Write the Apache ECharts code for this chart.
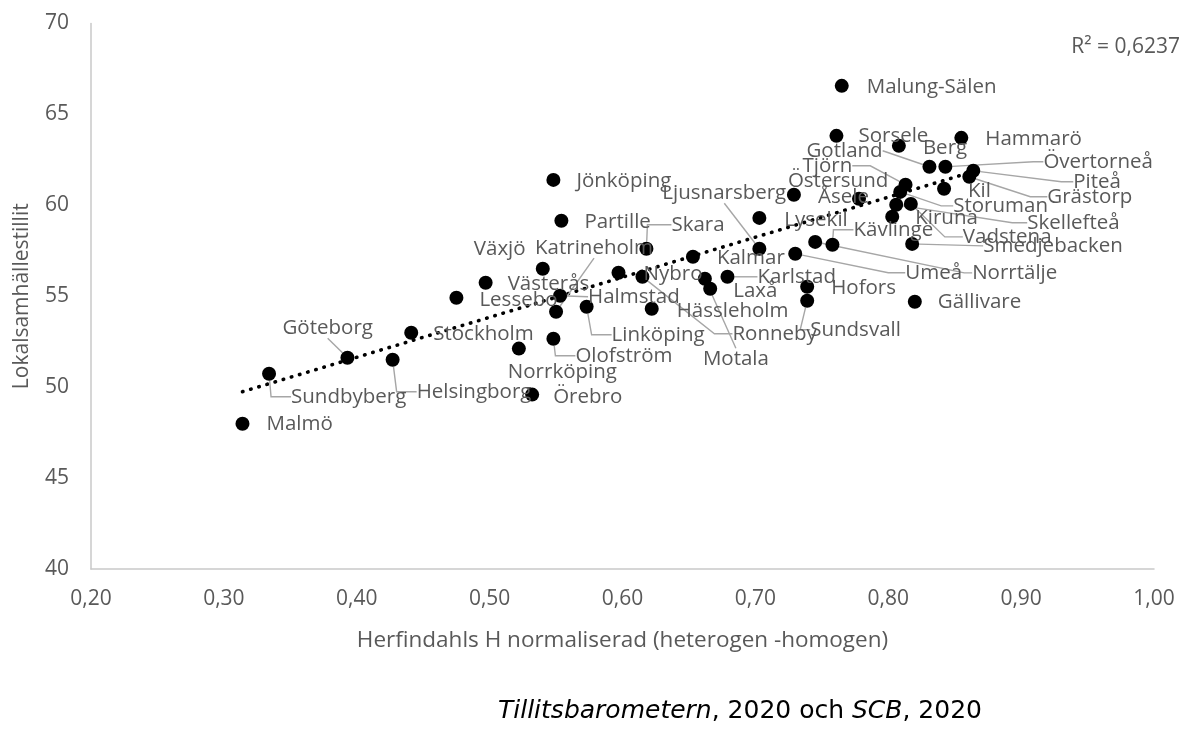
<!DOCTYPE html>
<html><head><meta charset="utf-8">
<script src="https://cdn.jsdelivr.net/npm/echarts@6/dist/echarts.min.js"></script>
<style>html,body{margin:0;padding:0;background:#fff}#c{width:1184px;height:751px}</style>
</head><body><div id="c"></div>
<script>
// ---- data ----
const municipalities = ['Malung-Sälen','Sorsele','Hammarö','Berg','Gotland','Övertorneå','Piteå','Grästorp','Kil','Tjörn','Storuman','Skellefteå','Vadstena','Kiruna','Smedjebacken','Östersund','Åsele','Lysekil','Ljusnarsberg','Kävlinge','Norrtälje','Umeå','Hofors','Sundsvall','Gällivare','Kalmar','Karlstad','Laxå','Motala','Ronneby','Nybro','Hässleholm','Skara','Partille','Jönköping','Katrineholm','Halmstad','Linköping','Lessebo','Västerås','Växjö','Stockholm','Göteborg','Sundbyberg','Helsingborg','Norrköping','Olofström','Örebro','Malmö'];
const herfindahl = [0.765,0.761,0.855,0.808,0.831,0.843,0.864,0.861,0.842,0.813,0.809,0.806,0.817,0.803,0.818,0.729,0.778,0.703,0.703,0.758,0.745,0.730,0.739,0.739,0.820,0.653,0.679,0.666,0.662,0.615,0.597,0.622,0.618,0.554,0.548,0.550,0.553,0.573,0.475,0.497,0.540,0.441,0.393,0.334,0.427,0.522,0.548,0.532,0.314];
const trust = [66.57,63.82,63.71,63.27,62.12,62.12,61.90,61.57,60.91,61.13,60.74,60.03,60.08,59.37,57.88,60.58,60.36,59.31,57.61,57.83,57.99,57.34,55.52,54.75,54.70,57.17,56.07,55.41,55.96,56.07,56.29,54.31,57.61,59.15,61.40,54.15,55.03,54.42,54.92,55.74,56.51,52.99,51.62,50.74,51.51,52.12,52.66,49.59,47.99];
const trendX = [0.314, 0.861];
const trendY = [49.75, 61.79];
const rSquaredText = 'R² = 0,6237';
const xAxisTitle = 'Herfindahls H normaliserad (heterogen -homogen)';
const yAxisTitle = 'Lokalsamhällestillit';

// ---- label placement (styling only): [dx, dy, leader length2 or null = no leader] ----
const labelPlacement = [
 [25,1,null],[22,0,null],[24,1,null],[24,2,null],[-123,-16,0],[98,-5,10],[100,11,12],[78,20,17],[24,2,null],[-103,-19,18],
 [53,14,12],[131,18,15],[52,33,18],[23,1,null],[71,2,0],[-6,-14,null],[-41,-2,null],[25,2,null],[-97,-56,0],[21,-15,20],
 [157,31,8],[110,19,17],[24,1,null],[3,29,10],[23,0,null],[24,1,null],[30,0,0],[23,2,null],[-2,80,0],[90,57,18],
 [25,1,null],[25,2,null],[25,-24,24],[23,1,null],[23,1,null],[-21,-64,0],[28,1,0],[25,28,20],[23,2,null],[22,1,null],
 [-69,-20,null],[22,1,null],[-65,-30,0],[22,23,20],[24,32,20],[-11,24,null],[22,17,20],[21,3,null],[24,0,null]
];

const FONT = 'Open Sans';
const GREY = '#595959';

const points = municipalities.map((name, i) => {
  const pl = labelPlacement[i];
  return {
    name: name,
    value: [herfindahl[i], trust[i]],
    labelLine: pl[2] === null ? { show: false } : { show: true, length2: pl[2] }
  };
});

const chart = echarts.init(document.getElementById('c'), null, { renderer: 'canvas' });
chart.setOption({
  animation: false,
  textStyle: { fontFamily: FONT },
  grid: { left: 91, right: 30, top: 23.5, bottom: 182, containLabel: false },
  xAxis: {
    type: 'value', min: 0.2, max: 1.0, interval: 0.1,
    name: xAxisTitle, nameLocation: 'middle', nameGap: 60,
    nameTextStyle: { fontFamily: FONT, fontSize: 22.5, color: GREY },
    axisLine: { show: true, lineStyle: { color: '#c9c9c9', width: 1.5 } },
    axisTick: { show: false },
    splitLine: { show: false },
    axisLabel: { fontFamily: FONT, fontSize: 21, color: GREY, margin: 20,
      formatter: v => v.toFixed(2).replace('.', ',') }
  },
  yAxis: {
    type: 'value', min: 40, max: 70, interval: 5,
    name: yAxisTitle, nameLocation: 'middle', nameGap: 58, nameRotate: 90,
    nameTextStyle: { fontFamily: FONT, fontSize: 21, color: GREY },
    axisLine: { show: true, lineStyle: { color: '#c9c9c9', width: 1.5 } },
    axisTick: { show: false },
    splitLine: { show: false },
    axisLabel: { fontFamily: FONT, fontSize: 21, color: GREY, margin: 22 }
  },
  series: [
    {
      type: 'line',
      data: trendX.map((x, i) => [x, trendY[i]]),
      symbol: 'none',
      silent: true,
      z: 3,
      lineStyle: { color: '#000', width: 3.6, type: [0.5, 8], cap: 'round' }
    },
    {
      type: 'scatter',
      data: points,
      symbol: 'circle',
      symbolSize: 14,
      z: 4,
      itemStyle: { color: '#000', opacity: 1 },
      emphasis: { disabled: true },
      label: {
        show: true,
        formatter: '{b}',
        fontFamily: FONT, fontSize: 20.5, color: GREY
      },
      labelLine: { show: false, lineStyle: { color: '#a6a6a6', width: 1.4 } },
      labelLayout: function (p) {
        const pl = labelPlacement[p.dataIndex];
        const cx = p.rect.x + p.rect.width / 2;
        const cy = p.rect.y + p.rect.height / 2;
        return { x: cx + pl[0], y: cy + pl[1], align: 'left', verticalAlign: 'middle' };
      }
    }
  ],
  graphic: [
    {
      type: 'text', x: 1180, y: 47, silent: true,
      style: { text: rSquaredText, align: 'right', verticalAlign: 'middle',
        fontFamily: FONT, fontSize: 21, fill: GREY }
    },
    {
      type: 'text', x: 740, y: 711, silent: true,
      style: {
        text: '{i|Tillitsbarometern}, 2020 och {i|SCB}, 2020',
        align: 'center', verticalAlign: 'middle',
        fontFamily: 'DejaVu Sans', fontSize: 25, fill: '#000',
        rich: { i: { fontStyle: 'italic', fontFamily: 'DejaVu Sans', fontSize: 25, fill: '#000' } }
      }
    }
  ]
});
</script></body></html>
